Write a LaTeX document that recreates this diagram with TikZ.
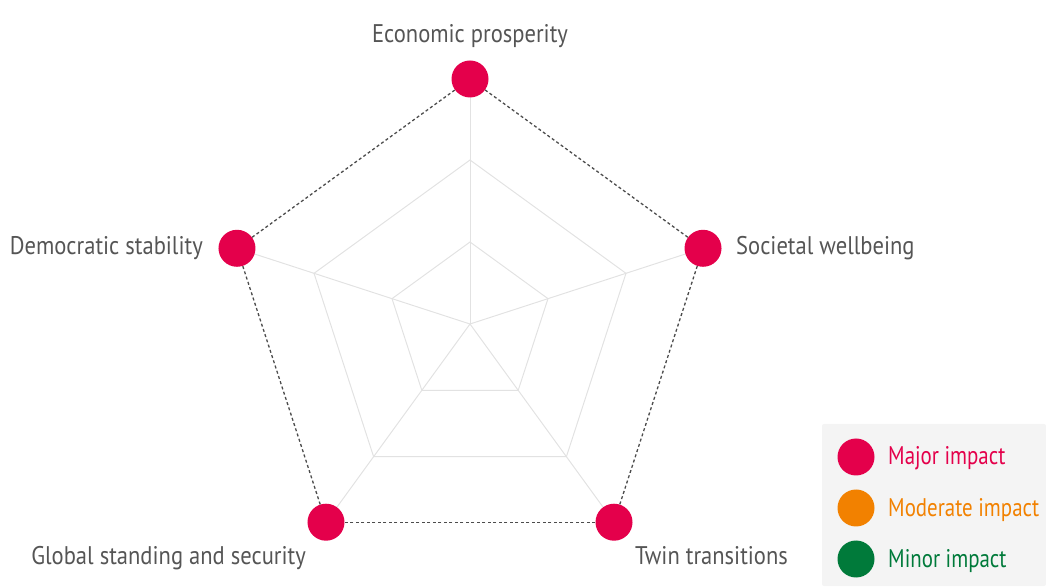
\documentclass[tikz,border=0pt]{standalone}
\usepackage{fontspec}
\setmainfont[FakeStretch=0.82]{PT Sans}
\newfontfamily\lblfont[FakeStretch=0.885]{PT Sans}
\usetikzlibrary{calc}
\definecolor{major}{HTML}{E4004B}
\definecolor{moderate}{HTML}{F28100}
\definecolor{minor}{HTML}{007A3A}
\definecolor{txtgray}{HTML}{555555}
\definecolor{gridgray}{HTML}{E2E2E2}
\definecolor{legbg}{HTML}{F4F4F4}
\tikzset{
  gridline/.style={draw=gridgray, line width=1pt},
  dashline/.style={draw=black!70, line width=1.3pt, dash pattern=on 3pt off 2.5pt},
  dot/.style={circle, minimum size=37pt, inner sep=0pt},
  lbl/.style={font=\lblfont\fontsize{25.5}{28}\selectfont, text=txtgray, inner sep=0pt},
  leg/.style={font=\fontsize{25.5}{28}\selectfont, inner sep=0pt, anchor=base west},
}
\begin{document}
\begin{tikzpicture}[x=1pt, y=1pt]
\useasboundingbox (0,0) rectangle (1046,586);
\coordinate (c) at (470,262);
% grid
\foreach \r in {82,164} {
  \draw[gridline] ($(c)+(90:\r)$) -- ($(c)+(18:\r)$) -- ($(c)+(-54:\r)$) -- ($(c)+(-126:\r)$) -- ($(c)+(162:\r)$) -- cycle;
}
\foreach \a in {90,18,-54,-126,162} {
  \draw[gridline] (c) -- ($(c)+(\a:245)$);
}
% vertices
\node[dot, fill=major] (ep) at ($(c)+(90:245)$) {};
\node[dot, fill=major] (sw) at ($(c)+(18:245)$) {};
\node[dot, fill=major] (tt) at ($(c)+(-54:245)$) {};
\node[dot, fill=major] (gs) at ($(c)+(-126:245)$) {};
\node[dot, fill=major] (ds) at ($(c)+(162:245)$) {};
\draw[dashline] (ep) -- (sw);
\draw[dashline] (sw) -- (tt);
\draw[dashline] (tt) -- (gs);
\draw[dashline] (gs) -- (ds);
\draw[dashline] (ds) -- (ep);
% labels
\node[lbl, anchor=base] (lep) at (470,543) {Economic prosperity};
\node[lbl, anchor=base west] (lsw) at (736,331) {Societal wellbeing};
\node[lbl, anchor=base east] (lds) at (203,331) {Democratic stability};
\node[lbl, anchor=base east] (lgs) at (306,21) {Global standing and security};
\node[lbl, anchor=base west] (ltt) at (635,21) {Twin transitions};
% legend
\fill[legbg, rounded corners=2pt] (822,0) rectangle (1046,162);
\node[dot, fill=major] (l1) at (856,129) {};
\node[dot, fill=moderate] (l2) at (856,78) {};
\node[dot, fill=minor] (l3) at (856,27) {};
\node[leg, text=major] (t1) at (888,121) {Major impact};
\node[leg, text=moderate] (t2) at (888,69) {Moderate impact};
\node[leg, text=minor] (t3) at (888,19) {Minor impact};
\end{tikzpicture}
\end{document}
